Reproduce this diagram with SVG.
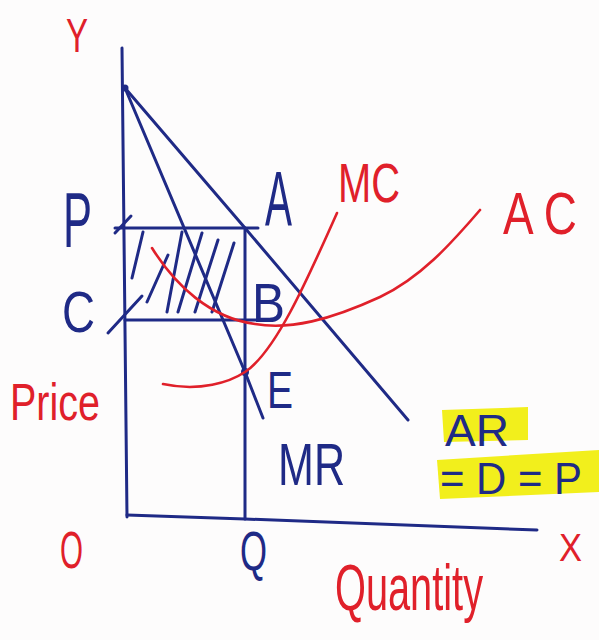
<svg xmlns="http://www.w3.org/2000/svg" width="599" height="640" viewBox="0 0 599 640">
<defs>
<style>
.b{stroke:#1f2a86;stroke-width:3;fill:none;stroke-linecap:round;stroke-linejoin:round}
.r{stroke:#e0202a;stroke-width:2.6;fill:none;stroke-linecap:round}
.tb{fill:#1f2a86;font-family:"Liberation Sans",Arial,sans-serif}
.tr{fill:#e0202a;font-family:"Liberation Sans",Arial,sans-serif}
.hl{fill:#f2ef1c}
</style>
</defs>
<rect width="599" height="640" fill="#fdfcfc"/>
<g id="highlights">
<path class="hl" d="M442,410 L528,407 L528,440 L444,442 Z"/>
<path class="hl" d="M437,460 L599,450 L599,492 L440,499 Z"/>
</g>
<g id="connectors">
<path class="b" d="M122,48 L127,517"/>
<path class="b" d="M127,515 L245,519 L537,530"/>
<path class="b" d="M125,88 L245,228 L408,420"/>
<path class="b" d="M125,88 L245,372 L263,418"/>
<path class="b" d="M115,228 L258,228"/>
<path class="b" d="M125,320 L258,320"/>
<path class="b" d="M245,228 L245,519"/>
<path class="b" d="M115,233 L131,216"/>
<path class="b" d="M108,333 L142,296"/>
<g id="hatch">
<path class="b" d="M143,232 L132,278"/>
<path class="b" d="M168,255 L147,302"/>
<path class="b" d="M182,232 L167,312"/>
<path class="b" d="M202,233 L178,312"/>
<path class="b" d="M218,240 L195,312"/>
<path class="b" d="M234,243 L212,312"/>
</g>
<circle cx="125" cy="88" r="3.5" fill="#1f2a86"/>
<circle cx="245" cy="372" r="4" fill="#1f2a86"/>
<path id="mc" class="r" d="M163,384 C200,392 230,382 245,372 C275,352 305,285 337,213"/>
<path id="ac" class="r" d="M152,248 C175,285 210,318 255,324 C290,330 330,320 380,297 C420,278 450,245 480,210"/>
</g>
<g id="labels">
<text class="tr" x="66" y="52" font-size="48" textLength="22" lengthAdjust="spacingAndGlyphs">Y</text>
<text class="tb" x="63" y="247" font-size="78" textLength="29" lengthAdjust="spacingAndGlyphs">P</text>
<text class="tb" x="265" y="226" font-size="78" textLength="27" lengthAdjust="spacingAndGlyphs">A</text>
<text class="tb" x="62" y="332" font-size="58" textLength="33" lengthAdjust="spacingAndGlyphs">C</text>
<text class="tb" x="252" y="322" font-size="55" textLength="33" lengthAdjust="spacingAndGlyphs">B</text>
<text class="tr" x="338" y="202" font-size="56" textLength="62" lengthAdjust="spacingAndGlyphs">MC</text>
<text class="tr" x="503" y="234" font-size="60" textLength="74" lengthAdjust="spacingAndGlyphs">A C</text>
<text class="tb" x="267" y="408" font-size="52" textLength="26" lengthAdjust="spacingAndGlyphs">E</text>
<text class="tb" x="278" y="485" font-size="60" textLength="67" lengthAdjust="spacingAndGlyphs">MR</text>
<text class="tb" x="445" y="446" font-size="44" textLength="64" lengthAdjust="spacingAndGlyphs">AR</text>
<text class="tb" x="440" y="494" font-size="44" textLength="142" lengthAdjust="spacingAndGlyphs">= D = P</text>
<text class="tr" x="10" y="420" font-size="52" textLength="90" lengthAdjust="spacingAndGlyphs">Price</text>
<text class="tr" x="60" y="568" font-size="52" textLength="23" lengthAdjust="spacingAndGlyphs">O</text>
<text class="tb" x="240" y="570" font-size="56" textLength="27" lengthAdjust="spacingAndGlyphs">Q</text>
<text class="tr" x="559" y="561" font-size="38" textLength="23" lengthAdjust="spacingAndGlyphs">X</text>
<text class="tr" x="335" y="610" font-size="64" textLength="148" lengthAdjust="spacingAndGlyphs">Quantity</text>
</g>
</svg>
